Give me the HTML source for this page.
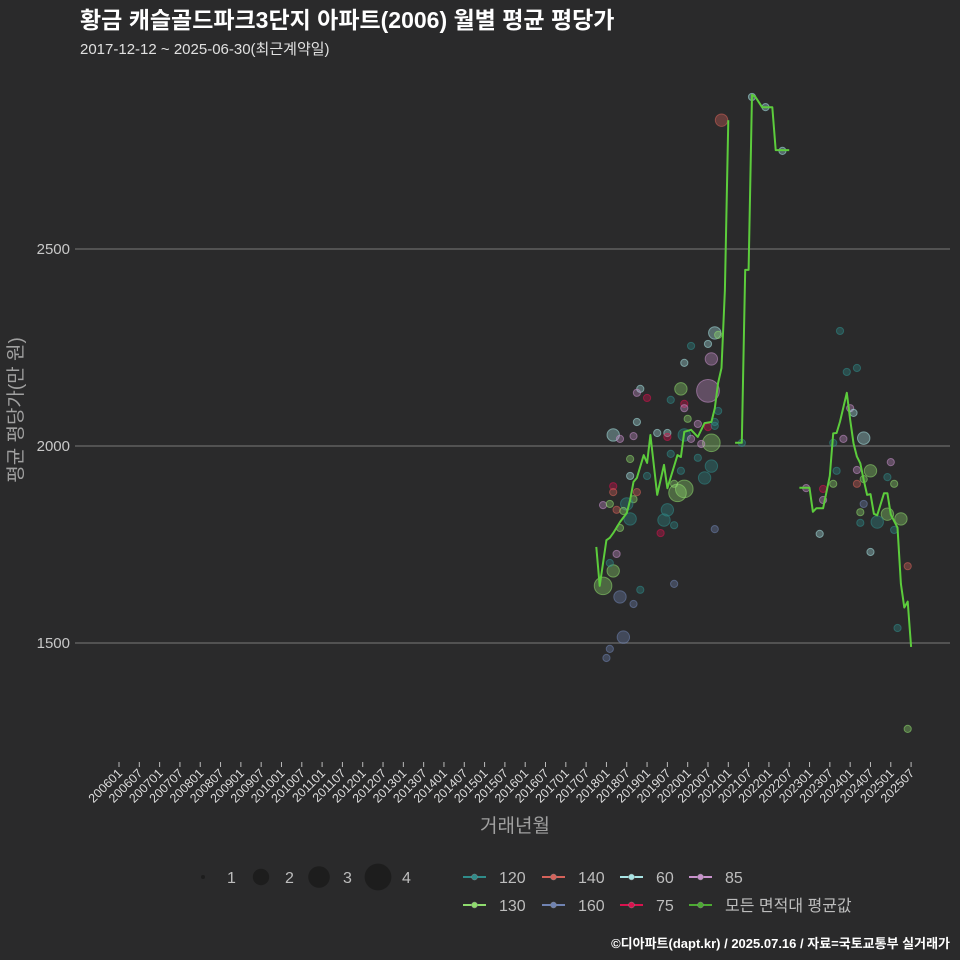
<!DOCTYPE html>
<html><head><meta charset="utf-8">
<style>
html,body{margin:0;padding:0;background:#2a2a2b;}
svg{display:block;font-family:"Liberation Sans","Noto Sans CJK KR",sans-serif;}
</style></head>
<body>
<svg id="chart" width="960" height="960" viewBox="0 0 960 960">
<rect x="0" y="0" width="960" height="960" fill="#2a2a2b"/>
<text x="80" y="28" fill="#ffffff" font-size="23" font-weight="bold">황금 캐슬골드파크3단지 아파트(2006) 월별 평균 평당가</text>
<text x="80" y="54" fill="#e0e0e0" font-size="15">2017-12-12 ~ 2025-06-30(최근계약일)</text>
<g id="grid"></g>
<g id="bubbles"></g>
<g id="avgline"></g>
<g id="xaxis"></g>
<text x="515" y="832" fill="#a0a0a0" font-size="19" text-anchor="middle">거래년월</text>
<text transform="translate(22,410) rotate(-90)" fill="#a0a0a0" font-size="19" text-anchor="middle">평균 평당가(만 원)</text>
<g id="legend"></g>
<text x="950" y="948" fill="#ffffff" font-size="13" font-weight="bold" text-anchor="end">©디아파트(dapt.kr) / 2025.07.16 / 자료=국토교통부 실거래가</text>
</svg>
<script>
// ---- data ----
const yTicks = [1500, 2000, 2500];
const xTickLabels = ["200601","200607","200701","200707","200801","200807","200901","200907","201001","201007","201101","201107","201201","201207","201301","201307","201401","201407","201501","201507","201601","201607","201701","201707","201801","201807","201901","201907","202001","202007","202101","202107","202201","202207","202301","202307","202401","202407","202501","202507"];
// month index from 2006-01; null = gap
const lineMonths = [141,142,144,145,146,148,150,151,152,153,155,156,157,159,161,162,165,166,167,169,171,173,175,176,177,178,179,180,null,182,184,185,186,187,188,190,193,194,198,null,201,204,205,206,208,210,211,212,213,215,216,217,218,219,220,221,222,223,224,226,227,228,230,231,232,233,234];
const lineValues = [1744,1645,1761,1767,1779,1807,1830,1863,1909,1919,1977,1957,2028,1876,1952,1893,1977,1972,2036,2041,2023,2058,2061,2096,2160,2198,2396,2827,null,2008,2008,2447,2447,2891,2886,2860,2860,2751,2751,null,1894,1894,1833,1842,1842,1924,2032,2033,2062,2135,2066,2007,1973,1956,1914,1876,1878,1828,1824,1880,1880,1826,1793,1650,1590,1605,1490];
const bubbleMonths = [176,177,169,174,175,167,166,174,154,153,156,163,167,167,177,168,153,171,174,176,176,146,148,152,159,162,162,167,169,175,172,163,171,151,175,173,151,156,166,167,165,164,146,146,153,152,150,143,145,147,149,151,162,161,164,148,160,176,147,146,143,145,148,154,152,164,149,145,144,178,187,191,196,184,213,215,218,216,217,214,220,211,228,222,218,212,227,211,218,220,229,208,203,208,220,227,231,224,219,219,229,207,222,233,230,233];
const bubbleValues = [2287,2282,2254,2259,2221,2211,2145,2140,2145,2135,2122,2117,2107,2096,2089,2069,2061,2056,2048,2061,2051,2028,2018,2025,2033,2033,2023,2028,2018,2008,2005,1980,1970,1967,1949,1919,1924,1924,1937,1891,1881,1904,1898,1883,1883,1865,1853,1850,1853,1838,1835,1815,1838,1812,1799,1792,1779,1789,1726,1683,1645,1703,1617,1635,1599,1650,1515,1485,1462,2827,2886,2860,2749,2008,2292,2188,2198,2096,2084,2018,2020,2008,1959,1937,1939,1937,1921,1904,1904,1916,1904,1891,1893,1863,1853,1827,1815,1807,1832,1805,1787,1777,1731,1695,1538,1282];
const bubbleCounts = [2,1,1,1,2,1,2,4,1,1,1,1,1,1,1,1,1,1,1,1,1,2,1,1,1,1,1,2,1,3,1,1,1,1,2,2,1,1,1,3,3,1,1,1,1,1,2,1,1,1,1,2,2,2,1,1,1,1,1,2,3,1,2,1,1,1,2,1,1,2,1,1,1,1,1,1,1,1,1,1,2,1,1,2,1,1,1,1,1,1,1,1,1,1,1,2,2,2,1,1,1,1,1,1,1,1];
const bubbleTypes = ["60","130","120","60","85","60","130","85","60","85","75","120","75","85","120","130","60","85","75","120","120","60","85","85","60","60","75","120","85","130","85","120","120","130","120","120","60","120","120","130","130","130","75","140","140","130","120","85","130","140","130","120","120","120","120","130","75","160","85","130","130","120","160","120","160","160","160","160","160","140","60","60","60","120","120","120","120","85","60","85","60","120","85","130","85","120","120","130","140","130","130","75","85","85","160","130","130","120","130","120","120","60","60","140","120","130"];
const typeNames = ["120","140","60","85","130","160","75"];
const typeColors = ["#2f8c8a","#d5625a","#a8e4e4","#c892cc","#8fdc6e","#7083b2","#d8124e"];
const sizeLegend = [1,2,3,4];

// ---- scales ----
const X0 = 119, PX_PER_MONTH = 3.385;
function xScale(m){ return X0 + m*PX_PER_MONTH; }
function yScale(v){ return 446 - (v-2000)*0.394; }
function rScale(c){ return 1 + c*2.6; }
function colorOf(t){ return typeColors[typeNames.indexOf(t)]; }
const NS="http://www.w3.org/2000/svg";
function mk(tag, attrs, parent){ const e=document.createElementNS(NS,tag); for(const k in attrs) e.setAttribute(k,attrs[k]); parent.appendChild(e); return e; }

// grid + y labels
const grid=document.getElementById('grid');
yTicks.forEach(v=>{
  const l=mk('line',{x1:75,x2:950,y1:yScale(v),y2:yScale(v),stroke:'#6a6a6a','stroke-width':1.2},grid);
  
  
  const t=mk('text',{x:70,y:yScale(v)+5,fill:'#c8c8c8','font-size':15,'text-anchor':'end'},grid);
  t.textContent=v;
  
  
});

// x axis
const xa=document.getElementById('xaxis');
xTickLabels.forEach((lab,i)=>{
  const x=xScale(i*6);
  const tk=mk('line',{x1:x,x2:x,y1:762,y2:767,stroke:'#bbbbbb','stroke-width':1},xa);
  
  
  const t=mk('text',{transform:`translate(${x+4},${774}) rotate(-45)`,fill:'#dddddd','font-size':12.5,'text-anchor':'end'},xa);
  t.textContent=lab;
  
  
});

// bubbles
const bg=document.getElementById('bubbles');
bubbleMonths.forEach((m,i)=>{
  const c=colorOf(bubbleTypes[i]);
  const el=mk('circle',{cx:xScale(m),cy:yScale(bubbleValues[i]),r:rScale(bubbleCounts[i]),fill:c,'fill-opacity':0.35,stroke:c,'stroke-opacity':0.55,'stroke-width':1},bg);
  
  
});

// average line
const al=document.getElementById('avgline');
let d='', pen=false;
lineMonths.forEach((m,i)=>{
  if(m===null||lineValues[i]===null){pen=false;return;}
  d+=(pen?'L':'M')+xScale(m).toFixed(1)+','+yScale(lineValues[i]).toFixed(1);
  pen=true;
});
const path=mk('path',{d:d,fill:'none',stroke:'#5ccc3c','stroke-width':2,'stroke-linejoin':'round'},al);



// legend
const lg=document.getElementById('legend');
const sizeX=[203,261,319,378];
sizeLegend.forEach((s,i)=>{
  const c=mk('circle',{cx:sizeX[i],cy:877,r:s===1?2:rScale(s)+2,fill:'#1a1a1a','fill-opacity':0.8},lg);
  
  
  const t=mk('text',{x:sizeX[i]+24,y:883,fill:'#bdbdbd','font-size':16},lg);
  t.textContent=s;
  
  
});
const legItems=[["120",0,0],["140",1,0],["60",2,0],["85",3,0],["130",0,1],["160",1,1],["75",2,1],["모든 면적대 평균값",3,1]];
const colX=[463,542,620,689];
legItems.forEach(([name,col,row])=>{
  const x=colX[col], y=877+row*28;
  const c= name==="모든 면적대 평균값" ? '#4caa32' : colorOf(name);
  const ln=mk('line',{x1:x,x2:x+23,y1:y,y2:y,stroke:c,'stroke-width':2},lg);
  
  
  const dt=mk('circle',{cx:x+11.5,cy:y,r:3,fill:c,stroke:'#888','stroke-width':0.5},lg);
  
  
  const t=mk('text',{x:x+36,y:y+6,fill:'#bdbdbd','font-size':16},lg);
  t.textContent=name;
  
  
});
</script>
</body></html>
